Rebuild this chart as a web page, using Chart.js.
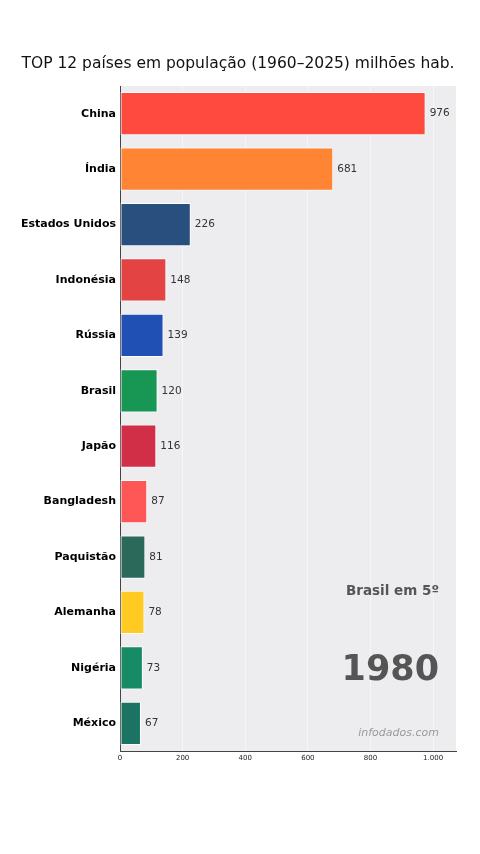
<!DOCTYPE html>
<html>
<head>
<meta charset="utf-8">
<script src="https://cdn.jsdelivr.net/npm/chart.js@4.4.1/dist/chart.umd.min.js"></script>
<style>
  html, body { margin: 0; padding: 0; background: #fff; }
  #wrap { width: 480px; height: 854px; position: relative; }
</style>
</head>
<body>
<div id="wrap"><canvas id="chart"></canvas></div>
<script>
// dados (1980, milhões de habitantes)
const countries = ["China", "Índia", "Estados Unidos", "Indonésia", "Rússia", "Brasil",
  "Japão", "Bangladesh", "Paquistão", "Alemanha", "Nigéria", "México"];
const population = [976, 681, 226, 148, 139, 120, 116, 87, 81, 78, 73, 67];
const barColors = ["#ff4a40", "#ff8534", "#284f7e", "#e34343", "#2050b4", "#189653",
  "#d12f47", "#ff5656", "#2b6a5b", "#ffca22", "#178b66", "#1b7461"];
const xTicks = [0, 200, 400, 600, 800, 1000];
const titleText = "TOP 12 países em população (1960–2025) milhões hab.";
const yearText = "1980";
const rankText = "Brasil em 5º";
const sourceText = "infodados.com";

const FONT = "'DejaVu Sans', sans-serif";

const decorPlugin = {
  id: "decor",
  beforeDraw(chart) {
    const { ctx, chartArea: a } = chart;
    ctx.save();
    ctx.fillStyle = "#ededf0";
    ctx.fillRect(a.left, a.top, a.right - a.left, a.bottom - a.top);
    ctx.restore();
  },
  afterDatasetsDraw(chart) {
    const { ctx } = chart;
    const meta = chart.getDatasetMeta(0);
    ctx.save();
    ctx.font = "10.5px " + FONT;
    ctx.fillStyle = "#333";
    ctx.textBaseline = "middle";
    ctx.textAlign = "left";
    meta.data.forEach((bar, i) => {
      ctx.fillText(String(population[i]), bar.x + 4, bar.y);
    });
    ctx.restore();
  },
  afterDraw(chart) {
    const { ctx } = chart;
    ctx.save();
    ctx.fillStyle = "#111";
    ctx.font = "15.5px " + FONT;
    ctx.textAlign = "center";
    ctx.textBaseline = "middle";
    ctx.fillText(titleText, 238, 64);

    ctx.textAlign = "right";
    ctx.fillStyle = "#555";
    ctx.font = "bold 13.5px " + FONT;
    ctx.fillText(rankText, 439, 591);
    ctx.font = "bold 35px " + FONT;
    ctx.fillText(yearText, 439, 671);
    ctx.fillStyle = "#9a9a9a";
    ctx.font = "italic 11px " + FONT;
    ctx.fillText(sourceText, 439, 733);
    ctx.restore();
  }
};

new Chart(document.getElementById("chart"), {
  type: "bar",
  data: {
    labels: countries,
    datasets: [{
      data: population,
      backgroundColor: barColors,
      borderColor: "rgba(255,255,255,0.9)",
      borderWidth: 1,
      borderSkipped: false,
      categoryPercentage: 1,
      barPercentage: 0.78
    }]
  },
  options: {
    indexAxis: "y",
    responsive: true,
    maintainAspectRatio: false,
    animation: false,
    layout: { padding: { top: 86, right: 24, bottom: 88, left: 0 } },
    plugins: {
      legend: { display: false },
      tooltip: { enabled: false }
    },
    scales: {
      x: {
        min: 0,
        max: 1073,
        afterFit(scale) { scale.height = 15; },
        afterBuildTicks(scale) { scale.ticks = xTicks.map(v => ({ value: v })); },
        ticks: {
          font: { family: FONT, size: 7 },
          color: "#222",
          padding: 3,
          maxRotation: 0,
          callback: v => v.toLocaleString("pt-BR")
        },
        grid: { color: "rgba(255,255,255,0.5)", lineWidth: 1, tickLength: 0 },
        border: { color: "#444", width: 1 }
      },
      y: {
        afterFit(scale) { scale.width = 120; },
        ticks: {
          font: { family: FONT, size: 11, weight: "bold" },
          color: "#000",
          padding: 4
        },
        grid: { display: false, tickLength: 0 },
        border: { color: "#444", width: 1 }
      }
    }
  },
  plugins: [decorPlugin]
});
</script>
</body>
</html>
